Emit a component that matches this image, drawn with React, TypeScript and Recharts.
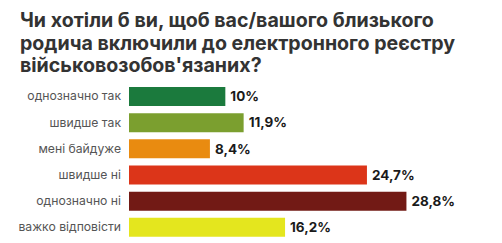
import { Bar, BarChart, Cell, LabelList, XAxis, YAxis } from "recharts";

const answers = [
  "однозначно так",
  "швидше так",
  "мені байдуже",
  "швидше ні",
  "однозначно ні",
  "важко відповісти",
];
const shares = [10, 11.9, 8.4, 24.7, 28.8, 16.2];
const colors = ["#1b7a3d", "#7b9f2f", "#e98b10", "#dc3519", "#721a15", "#e4e61e"];

const data = answers.map((name, i) => ({ name, value: shares[i] }));

const fmt = (v: any) => String(v).replace(".", ",") + "%";

export default function App() {
  return (
    <div
      style={{
        position: "absolute",
        left: 0,
        top: 0,
        width: 502,
        height: 243,
        background: "#fff",
        fontFamily: "Inter, sans-serif",
      }}
    >
      <div
        style={{
          position: "absolute",
          left: 20,
          top: 9,
          fontSize: 19.6,
          lineHeight: "22.5px",
          fontWeight: 700,
          color: "#333",
          width: 480,
          whiteSpace: "nowrap",
        }}
      >
        Чи хотіли б ви, щоб вас/вашого близького
        <br />
        родича включили до електронного реєстру
        <br />
        військовозобов'язаних?
      </div>
      <BarChart
        width={502}
        height={243}
        data={data}
        layout="vertical"
        margin={{ top: 83, right: 84, bottom: 3, left: 0 }}
      >
        <XAxis type="number" domain={[0, 30]} hide />
        <YAxis
          type="category"
          dataKey="name"
          width={129}
          axisLine={false}
          tickLine={false}
          tick={{ fill: "#555", fontSize: 12.2 }}
        />
        <Bar dataKey="value" barSize={19} isAnimationActive={false}>
          {data.map((d, i) => (
            <Cell key={d.name} fill={colors[i]} />
          ))}
          <LabelList
            dataKey="value"
            position="right"
            offset={5}
            formatter={fmt}
            fill="#1a1a1a"
            fontSize={13.5}
            fontWeight={700}
          />
        </Bar>
      </BarChart>
    </div>
  );
}
